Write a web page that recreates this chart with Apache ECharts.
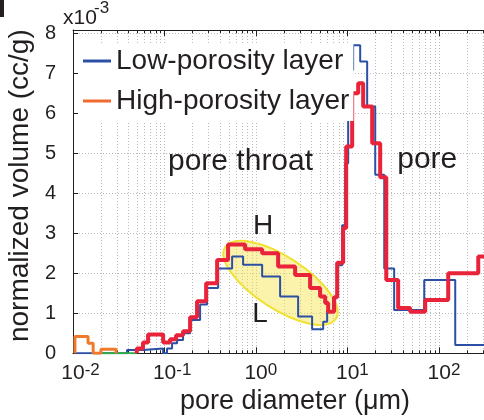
<!DOCTYPE html>
<html><head><meta charset="utf-8">
<script src="https://cdn.jsdelivr.net/npm/echarts@6/dist/echarts.min.js"></script>
<style>html,body{margin:0;padding:0;background:#fff}#c{width:484px;height:420px}</style>
</head><body><div id="c"></div>
<script>
const FONT = '"Liberation Sans", Arial, Helvetica, sans-serif';
const TXT = '#231f20';

// Series names
const lowName = 'Low-porosity layer';
const highName = 'High-porosity layer';

// Pore diameter (μm) at each stair edge; volume (x10^-3 cc/g) held from that edge to the next
const lowDiam = [0.0105, 0.0389, 0.0582, 0.0965, 0.1064, 0.1208, 0.1371, 0.1592, 0.190, 0.2444, 0.2911, 0.3846, 0.547, 0.721, 1.164, 1.829, 2.877, 4.09, 5.40, 5.97, 6.95, 7.68, 8.71, 9.39, 10.13, 11.48, 13.7, 16.33, 20.0, 25.1, 32.2, 68.6, 149.6, 318];
const lowVol  = [0, 0.08, 0.12, 0, 0.12, 0.25, 0.33, 0.5, 0.83, 1.22, 1.63, 2.12, 2.42, 2.21, 1.92, 1.42, 0.92, 0.6, 0.79, 1.05, 1.4, 2.2, 3.2, 4.75, 7.08, 7.7, 7.29, 6.17, 4.46, 2.12, 1.08, 1.83, 0.21, 0.21];

const highDiam = [0.0497, 0.0497, 0.0582, 0.0661, 0.0965, 0.1148, 0.1337, 0.1592, 0.190, 0.2265, 0.2845, 0.3753, 0.494, 0.758, 1.164, 1.740, 2.667, 3.890, 5.00, 5.68, 6.12, 7.12, 7.68, 8.93, 9.63, 11.2, 13.03, 14.77, 18.53, 22.65, 26.4, 35.6, 48.2, 70.3, 125.4, 266.9, 318];
const highVol  = [0, 0.12, 0.27, 0.47, 0.27, 0.35, 0.45, 0.55, 0.9, 1.3, 1.75, 2.33, 2.72, 2.6, 2.5, 2.17, 1.96, 1.63, 1.42, 1.26, 1.04, 1.4, 2.26, 3.13, 5.17, 6.5, 6.75, 6.17, 5.25, 4.4, 1.83, 1.13, 1.04, 1.33, 2.0, 2.42, 2.42];

// small extra traces near 10^-2
const orangeDiam = [0.0105, 0.0105, 0.0146, 0.0166, 0.0202, 0.0295];
const orangeVol  = [0, 0.42, 0.25, 0, 0.1, 0];
const greenDiam = [0.0166, 0.0497];
const greenVol  = [0, 0];

// Axis ticks
const xExpMin = -2, xExpMax = 2.5;
const xTickExponents = [-2, -1, 0, 1, 2];
const yTicks = [0, 1, 2, 3, 4, 5, 6, 7, 8];
const yMax = 8.08;

const toPairs = (ds, vs) => ds.map((d, i) => [Math.log10(d), vs[i]]);

// log minor positions (2..9 per decade)
const minorPos = [];
for (let n = -2; n <= 2; n++) for (let k = 2; k <= 9; k++) {
  const v = n + Math.log10(k);
  if (v < xExpMax) minorPos.push([v, 0]);
}

const chart = echarts.init(document.getElementById('c'), null, {renderer: 'canvas'});

const dotted = {type: [1, 2], color: '#b9b9b9', width: 1};

const option = {
  animation: false,
  backgroundColor: '#fff',
  textStyle: {fontFamily: FONT},
  grid: {left: 73, right: -1, top: 30, bottom: 66.7, containLabel: false, outerBoundsMode: 'none'},
  legend: {
    orient: 'vertical', left: 78, top: 43,
    icon: 'rect', itemWidth: 28, itemHeight: 3, itemGap: 12,
    backgroundColor: '#fff', padding: [4, 4, 6, 5],
    selectedMode: false,
    textStyle: {fontSize: 28, fontFamily: FONT, color: TXT},
    data: [
      {name: lowName, itemStyle: {color: '#2a4fa5'}},
      {name: highName, itemStyle: {color: '#ef6a2e'}}
    ],
    z: 20
  },
  xAxis: [{
    type: 'value', min: xExpMin, max: xExpMax, interval: 1,
    position: 'bottom',
    axisLine: {show: true, onZero: false, lineStyle: {color: TXT, width: 1}},
    axisTick: {show: true, inside: true, length: 6, lineStyle: {color: TXT}},
    splitLine: {show: true, lineStyle: dotted},
    axisLabel: {
      margin: 9, fontFamily: FONT, color: TXT,
      formatter: v => xTickExponents.includes(Math.round(v)) && Math.abs(v - Math.round(v)) < 1e-9
        ? `{s|${Math.round(v)}}{b|10}{e|${Math.round(v)}}` : '',
      rich: {
        s: {fontSize: 17, lineHeight: 8, verticalAlign: 'top', color: 'rgba(0,0,0,0)', fontFamily: FONT},
        b: {fontSize: 21, lineHeight: 21, verticalAlign: 'bottom', color: TXT, fontFamily: FONT},
        e: {fontSize: 17, lineHeight: 8, verticalAlign: 'top', color: TXT, fontFamily: FONT}
      }
    },
    name: 'pore diameter (μm)', nameLocation: 'middle', nameGap: 35,
    nameTextStyle: {fontSize: 27, fontFamily: FONT, color: TXT, padding: [0, 0, 0, 32]}
  }, {
    type: 'value', min: xExpMin, max: xExpMax, interval: 1,
    position: 'top',
    axisLine: {show: true, onZero: false, lineStyle: {color: TXT, width: 1}},
    axisTick: {show: true, inside: true, length: 6, lineStyle: {color: TXT}},
    splitLine: {show: false}, axisLabel: {show: false}
  }],
  yAxis: {
    type: 'value', min: 0, max: yMax, interval: 1,
    axisLine: {show: true, onZero: false, lineStyle: {color: TXT, width: 1}},
    axisTick: {show: true, inside: true, length: 5, lineStyle: {color: TXT}},
    splitLine: {show: true, lineStyle: dotted},
    axisLabel: {
      margin: 17, fontSize: 20, fontFamily: FONT, color: TXT,
      formatter: v => yTicks.includes(v) ? String(v) : ''
    },
    name: 'normalized volume (cc/g)', nameLocation: 'middle', nameGap: 36,
    nameTextStyle: {fontSize: 28, fontFamily: FONT, color: TXT, padding: [0, 0, 0, 12]}
  },
  series: [
    {
      type: 'custom', name: 'minor', silent: true, z: 1,
      data: minorPos, encode: {x: 0, y: 1},
      renderItem: (params, api) => {
        const x = Math.round(api.coord([api.value(0), 0])[0]) + 0.5;
        const cs = params.coordSys;
        return {type: 'group', children: [
          {type: 'line', shape: {x1: x, y1: cs.y, x2: x, y2: cs.y + cs.height}, style: {stroke: '#b9b9b9', lineWidth: 1, lineDash: [1, 2]}},
          {type: 'line', shape: {x1: x, y1: cs.y + cs.height, x2: x, y2: cs.y + cs.height - 3}, style: {stroke: TXT, lineWidth: 1}},
          {type: 'line', shape: {x1: x, y1: cs.y, x2: x, y2: cs.y + 3}, style: {stroke: TXT, lineWidth: 1}}
        ]};
      }
    },
    {
      type: 'line', name: lowName, step: 'end', showSymbol: false, symbol: 'none', z: 3,
      data: toPairs(lowDiam, lowVol),
      lineStyle: {color: '#2a4fa5', width: 2}, itemStyle: {color: '#2a4fa5'}
    },
    {
      type: 'line', name: 'green', step: 'end', showSymbol: false, symbol: 'none', z: 4,
      data: toPairs(greenDiam, greenVol),
      lineStyle: {color: '#2eaa48', width: 2}
    },
    {
      type: 'line', name: 'orange', step: 'end', showSymbol: false, symbol: 'none', z: 4,
      data: toPairs(orangeDiam, orangeVol),
      lineStyle: {color: '#f07a2c', width: 3}
    },
    {
      type: 'line', name: highName, step: 'end', showSymbol: false, symbol: 'none', z: 5,
      data: toPairs(highDiam, highVol),
      lineStyle: {color: '#e8233a', width: 4}, itemStyle: {color: '#ef6a2e'}
    }
  ]
};
chart.setOption(option);

// Annotations placed in data space (diameter μm, volume)
const ellipseCenter = {d: 1.85, v: 1.76};
const annotations = [
  {text: 'pore throat', d: 0.109, v: 4.8, align: 'left', size: 30},
  {text: 'pore', d: 34.8, v: 4.85, align: 'left', size: 30},
  {text: 'H', d: 1.19, v: 3.17, align: 'center', size: 28},
  {text: 'L', d: 1.106, v: 0.98, align: 'center', size: 28}
];
const px = (d, v) => chart.convertToPixel({gridIndex: 0}, [Math.log10(d), v]);
const ec = px(ellipseCenter.d, ellipseCenter.v);
const graphics = [
  {
    type: 'ellipse', x: ec[0], y: ec[1], rotation: -33 * Math.PI / 180, z: 1, silent: true,
    shape: {cx: 0, cy: 0, rx: 66, ry: 26},
    style: {fill: 'rgba(246,228,70,0.45)', stroke: '#f0e234', lineWidth: 2}
  },
  {
    type: 'text', x: 63, y: 18, z: 10,
    style: {text: 'x10', fontSize: 21, fontFamily: FONT, fill: TXT, align: 'left', verticalAlign: 'middle'}
  },
  {
    type: 'text', x: 94, y: 8, z: 10,
    style: {text: '-3', fontSize: 17, fontFamily: FONT, fill: TXT, align: 'left', verticalAlign: 'middle'}
  },
  {type: 'rect', shape: {x: 0, y: 0, width: 4, height: 17}, style: {fill: TXT}, z: 10}
];
annotations.forEach(a => {
  const p = px(a.d, a.v);
  graphics.push({type: 'text', x: p[0], y: p[1], z: 10,
    style: {text: a.text, fontSize: a.size, fontFamily: FONT, fill: TXT, align: a.align, verticalAlign: 'middle'}});
});
chart.setOption({graphic: graphics});
</script>
</body></html>
